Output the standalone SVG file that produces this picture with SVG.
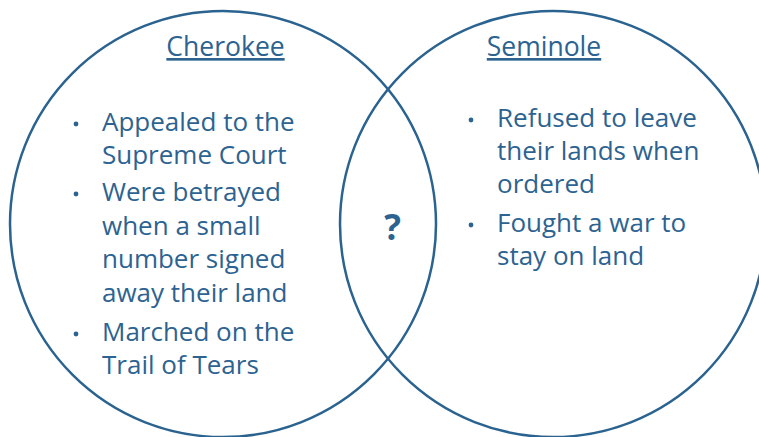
<svg xmlns="http://www.w3.org/2000/svg" width="759" height="437" viewBox="0 0 759 437">
<style>
.c{fill:none;stroke:#2b6390;stroke-width:2.5}
.t{font-family:"Open Sans",Lato,sans-serif;font-size:26px;fill:#2d6391}
.h{font-family:"Open Sans",Lato,sans-serif;font-size:26.5px;fill:#2d6391;text-decoration:underline}
.b{fill:#2d6391}
.q{font-family:"Open Sans",Lato,sans-serif;font-size:35px;font-weight:bold;fill:#2d6391}
</style>
<rect width="759" height="437" fill="#fff"/>
<g id="cherokee">
<circle class="c" cx="223" cy="224" r="213"/>
<text class="h" x="225.5" y="56" text-anchor="middle">Cherokee</text>
<circle class="b" cx="76" cy="124" r="2.4"/>
<text class="t" x="102" y="131">Appealed to the</text>
<text class="t" x="102" y="164">Supreme Court</text>
<circle class="b" cx="76" cy="194" r="2.4"/>
<text class="t" x="102" y="201">Were betrayed</text>
<text class="t" x="102" y="234.5">when a small</text>
<text class="t" x="102" y="268">number signed</text>
<text class="t" x="102" y="301.5">away their land</text>
<circle class="b" cx="76" cy="334" r="2.4"/>
<text class="t" x="102" y="341">Marched on the</text>
<text class="t" x="102" y="374">Trail of Tears</text>
</g>
<g id="seminole">
<circle class="c" cx="553" cy="224" r="213"/>
<text class="h" x="544" y="56" text-anchor="middle">Seminole</text>
<circle class="b" cx="471" cy="120" r="2.4"/>
<text class="t" x="497" y="127">Refused to leave</text>
<text class="t" x="497" y="160">their lands when</text>
<text class="t" x="497" y="193">ordered</text>
<circle class="b" cx="471" cy="225" r="2.4"/>
<text class="t" x="497" y="232">Fought a war to</text>
<text class="t" x="497" y="265">stay on land</text>
</g>
<g id="overlap">
<text class="q" x="392.5" y="240" text-anchor="middle">?</text>
</g>
</svg>
